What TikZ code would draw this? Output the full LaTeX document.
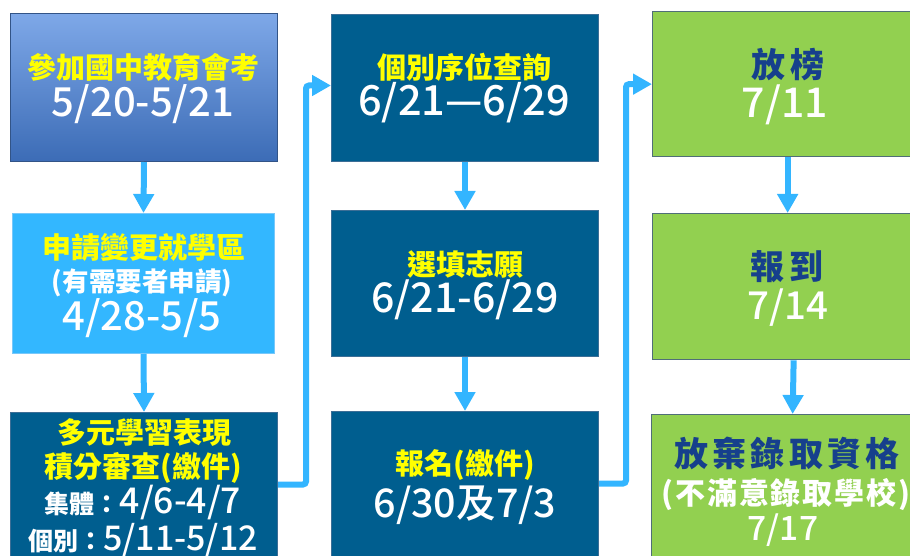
\documentclass[tikz,border=0pt]{standalone}
\usepackage{fontspec}
\setmainfont{Noto Sans CJK TC}
\newfontfamily\cjk{Noto Sans CJK TC}
\newfontfamily\numf{Noto Sans CJK TC Medium}
\usetikzlibrary{arrows.meta}
\definecolor{gradtop}{RGB}{126,168,232}
\definecolor{gradbot}{RGB}{60,108,182}
\definecolor{gradline}{RGB}{50,84,135}
\definecolor{lightbox}{RGB}{51,183,255}
\definecolor{lightline}{RGB}{120,200,250}
\definecolor{darkbox}{RGB}{0,94,143}
\definecolor{darkline}{RGB}{60,110,150}
\definecolor{greenbox}{RGB}{146,208,80}
\definecolor{greenline}{RGB}{80,110,120}
\definecolor{connc}{RGB}{51,181,255}
\definecolor{yel}{RGB}{255,255,0}
\definecolor{navy}{RGB}{22,64,140}
\tikzset{
  boxbase/.style={anchor=north west, inner sep=0pt, line width=1pt},
  gradbox/.style={boxbase, draw=gradline, top color=gradtop, bottom color=gradbot},
  lbox/.style={boxbase, draw=lightline, fill=lightbox},
  dbox/.style={boxbase, draw=darkline, fill=darkbox},
  gbox/.style={boxbase, draw=greenline, fill=greenbox, line width=1.3pt},
  conn/.style={draw=connc, line width=6pt, -{Triangle[length=19pt,width=20pt]}},
  ytxt/.style={text=yel, inner sep=0pt, font=\cjk\bfseries\fontsize{#1}{#1}\selectfont},
  wcjk/.style={text=white, inner sep=0pt, font=\cjk\bfseries\fontsize{#1}{#1}\selectfont},
  ntxt/.style={text=navy, inner sep=0pt, font=\cjk\bfseries\fontsize{#1}{#1}\selectfont\addfontfeatures{LetterSpace=12}},
  wide/.style={font=\cjk\bfseries\fontsize{#1}{#1}\selectfont\addfontfeatures{LetterSpace=6}},
  num/.style={text=white, inner sep=0pt, font=\numf\fontsize{#1}{#1}\selectfont},
}
\begin{document}
\begin{tikzpicture}[x=1pt,y=-1pt]
\useasboundingbox (0,0) rectangle (910,556);
\clip (0,0) rectangle (910,556);
% boxes
\node[gradbox, minimum width=267pt, minimum height=148pt] (b1) at (10,13) {};
\node[lbox, minimum width=262pt, minimum height=140pt] (b2) at (12,213) {};
\node[dbox, minimum width=267pt, minimum height=148pt] (b3) at (10,412) {};
\node[dbox, minimum width=267pt, minimum height=147pt] (b4) at (331,14) {};
\node[dbox, minimum width=267pt, minimum height=146pt] (b5) at (331,210) {};
\node[dbox, minimum width=267pt, minimum height=148pt] (b6) at (331,411) {};
\node[gbox, minimum width=266pt, minimum height=145pt] (b7) at (652,11) {};
\node[gbox, minimum width=266pt, minimum height=146pt] (b8) at (652,213) {};
\node[gbox, minimum width=266pt, minimum height=146pt] (b9) at (651,414) {};
% connectors
\draw[conn] (b1.south) -- (b2.north);
\draw[conn] (b2.south) -- (b3.north);
\draw[conn, rounded corners=3pt] ([yshift=2pt]b3.east) -- ++(28,0) |- ([yshift=2.5pt]b4.west);
\draw[conn] (b4.south) -- (b5.north);
\draw[conn] (b5.south) -- (b6.north);
\draw[conn, rounded corners=3pt] ([yshift=2pt]b6.east) -- ++(27,0) |- ([yshift=0pt]b7.west);
\draw[conn] ([xshift=2pt]b7.south) -- ([xshift=2pt]b8.north);
\draw[conn] ([xshift=8pt]b8.south) -- ([xshift=8pt]b9.north);
% texts column 1
\node[ytxt=29] (t1a) at (143.5,67) {參加國中教育會考};
\node[num=40] (t1b) at (143,104) {5/20-5/21};
\node[ytxt=29] (t2a) at (144,247) {申請變更就學區};
\node[wcjk=26.5] (t2b) at (142,283) {(有需要者申請)};
\node[num=40] (t2c) at (142,318) {4/28-5/5};
\node[ytxt=29] (t3a) at (144,433) {多元學習表現};
\node[ytxt=29] (t3b) at (143,468) {積分審查(繳件)};
\node[num=35.5] (t3c) at (143,503) {{\cjk\bfseries\fontsize{25}{25}\selectfont 集體：}4/6-4/7};
\node[num=34] (t3d) at (143,540) {{\cjk\bfseries\fontsize{25}{25}\selectfont 個別：}5/11-5/12};
% column 2
\node[ytxt=29] (t4a) at (464,67) {個別序位查詢};
\node[num=41.5] (t4b) at (464,103) {6/21—6/29};
\node[ytxt=29] (t5a) at (465,265) {選填志願};
\node[num=41] (t5b) at (465,300) {6/21-6/29};
\node[ytxt=29] (t6a) at (465,465) {報名(繳件)};
\node[num=39.5] (t6b) at (465,505) {6/30及7/3};
% column 3
\node[ntxt=34] (t7a) at (788,65) {放榜};
\node[num=41] (t7b) at (785,105) {7/11};
\node[ntxt=34] (t8a) at (787,267) {報到};
\node[num=38.5] (t8b) at (788,308) {7/14};
\node[ntxt=34] (t9a) at (787,453) {放棄錄取資格};
\node[wcjk=30, wide=30] (t9b) at (786,495) {(不滿意錄取學校)};
\node[num=33.5] (t9c) at (783,530) {7/17};
\end{tikzpicture}
\end{document}
